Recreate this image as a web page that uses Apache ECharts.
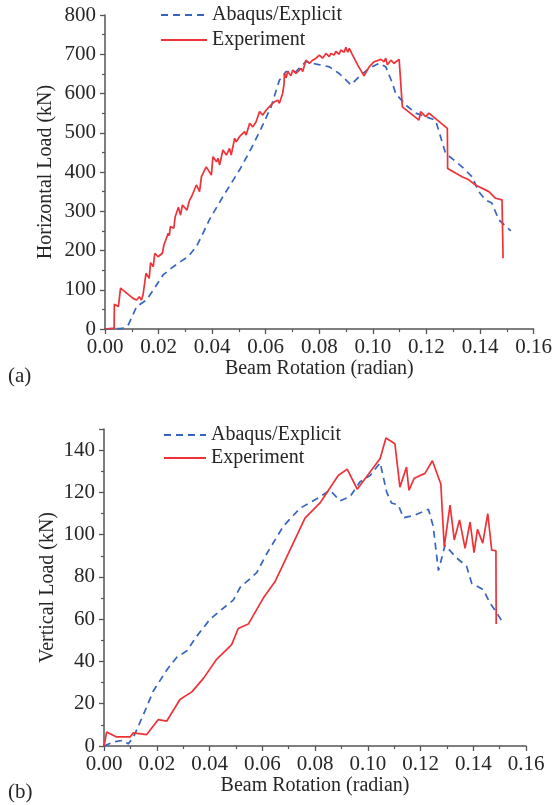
<!DOCTYPE html>
<html>
<head>
<meta charset="utf-8">
<script src="https://cdn.jsdelivr.net/npm/echarts@6/dist/echarts.min.js"></script>
<style>html,body{margin:0;padding:0;background:#fff;}#c{width:555px;height:805px;}</style>
</head>
<body>
<div id="c"></div>
<script>
var seriesNames = ['Abaqus/Explicit', 'Experiment'];
var panelLabels = ['(a)', '(b)'];
var xTitle = 'Beam Rotation (radian)';
var yTitles = ['Horizontal Load (kN)', 'Vertical Load (kN)'];

var abaqusH = [[0,0],[0.0056,1],[0.0075,3],[0.0088,12],[0.0118,57],[0.0155,74],[0.018,99],[0.0217,138],[0.0248,155],[0.0291,176],[0.031,184],[0.0341,210],[0.0366,244],[0.0391,280],[0.044,337],[0.0502,405],[0.0546,460],[0.0583,511],[0.062,566],[0.0651,634],[0.0676,656],[0.0713,656],[0.075,681],[0.0788,675],[0.0837,668],[0.0874,651],[0.0918,622],[0.0949,643],[0.0986,664],[0.1023,677],[0.1048,668],[0.1073,626],[0.1085,600],[0.1122,571],[0.116,550],[0.1197,541],[0.1234,532],[0.1271,448],[0.1333,413],[0.137,388],[0.1395,350],[0.142,329],[0.1444,321],[0.147,278],[0.1515,250]];

var experimentH = [[0,0],[0.0034,2],[0.0035,63],[0.005,57],[0.0058,104],[0.0105,78],[0.0118,74],[0.0128,82],[0.0136,74],[0.0142,87],[0.0149,82],[0.0153,142],[0.0165,129],[0.017,169],[0.018,159],[0.0186,193],[0.0198,184],[0.0214,193],[0.022,214],[0.0236,244],[0.024,238],[0.0244,261],[0.0257,257],[0.0262,286],[0.0274,310],[0.0282,290],[0.0289,316],[0.0306,303],[0.0316,329],[0.0323,337],[0.033,335],[0.0341,367],[0.0353,350],[0.036,388],[0.0378,413],[0.0397,392],[0.0403,439],[0.0416,426],[0.0422,435],[0.0428,418],[0.044,456],[0.0453,443],[0.0465,460],[0.0471,443],[0.0484,486],[0.049,477],[0.0502,490],[0.0508,486],[0.0521,503],[0.0527,494],[0.054,524],[0.0552,515],[0.0564,528],[0.0577,554],[0.0589,545],[0.0602,558],[0.062,571],[0.0633,579],[0.0645,583],[0.0651,575],[0.0663,600],[0.0668,622],[0.067,651],[0.0676,640],[0.0682,656],[0.0694,645],[0.0701,660],[0.0713,651],[0.0732,664],[0.0738,656],[0.075,685],[0.0763,677],[0.0775,685],[0.0788,690],[0.08,698],[0.0812,690],[0.0825,702],[0.0837,694],[0.0843,702],[0.0855,698],[0.0862,707],[0.0874,700],[0.088,711],[0.0893,705],[0.0899,718],[0.0906,705],[0.0912,715],[0.0921,702],[0.0943,673],[0.0967,645],[0.0986,668],[0.1005,681],[0.103,687],[0.1042,681],[0.1048,690],[0.1054,673],[0.1067,685],[0.1079,677],[0.1098,687],[0.111,566],[0.1172,532],[0.1178,554],[0.1197,541],[0.1209,550],[0.1278,511],[0.1279,409],[0.1333,388],[0.1358,380],[0.1383,367],[0.1433,350],[0.1458,333],[0.1464,337],[0.1482,329],[0.1486,180]];

var abaqusV = [[0,0],[0.0036,1.9],[0.0073,2.7],[0.0092,1],[0.0112,4.3],[0.015,15],[0.0187,26],[0.0238,36],[0.0276,42],[0.0314,45],[0.0352,52],[0.0402,60],[0.044,64],[0.049,69],[0.0516,75],[0.0579,82],[0.0617,91],[0.068,104],[0.0743,112.5],[0.0807,117],[0.0857,121],[0.0895,116],[0.0933,118],[0.0971,125],[0.1009,128],[0.1047,134],[0.1072,120],[0.109,115],[0.1116,114],[0.1135,108],[0.1173,109],[0.123,112],[0.1248,104],[0.1268,83],[0.1293,95],[0.1337,89],[0.1375,85],[0.1394,77],[0.1438,74],[0.1464,67.5],[0.1489,63],[0.1514,58]];

var experimentV = [[0,0],[0.001,6.6],[0.0048,4.3],[0.0099,4.3],[0.0111,6.2],[0.0162,5.4],[0.0206,12.5],[0.0238,11.8],[0.0288,22],[0.0333,25.6],[0.0377,32],[0.0427,41],[0.0484,48],[0.0509,55.6],[0.0547,57.7],[0.0604,70],[0.0648,77.7],[0.0705,92.7],[0.0762,107.8],[0.0819,115],[0.0888,128],[0.0922,131],[0.096,121.5],[0.1047,136],[0.1069,145.7],[0.1103,143],[0.1122,122.5],[0.1147,132],[0.1156,121],[0.1176,126.7],[0.1217,129],[0.1245,135],[0.1277,124],[0.129,94.3],[0.1312,114],[0.1328,97.5],[0.1348,107],[0.1369,93.5],[0.1388,106],[0.1403,91.5],[0.1416,102.5],[0.1436,96],[0.1455,110],[0.147,92.7],[0.1486,92.4],[0.1487,57.7]];

var FONT = "'Liberation Serif', 'Times New Roman', serif";
var TXT = '#262626';
var AX = '#555555';
var BLUE = '#3565c0';
var RED = '#ee3237';

function xAxisCfg(gi){
  return {
    type:'value', gridIndex:gi, min:0, max:0.16, interval:0.02,
    name:xTitle, nameLocation:'middle', nameGap:30, nameMoveOverlap:false,
    nameTextStyle:{fontFamily:FONT,fontSize:20,color:TXT},
    axisLine:{show:true,onZero:false,lineStyle:{color:AX,width:1.5}},
    axisTick:{show:true,inside:false,length:5,lineStyle:{color:AX,width:1.3}},
    minorTick:{show:true,splitNumber:2,length:3,lineStyle:{color:AX,width:1.2}},
    axisLabel:{fontFamily:FONT,fontSize:21,color:TXT,margin:8,formatter:function(v){return v.toFixed(2);}},
    splitLine:{show:false}
  };
}
function yAxisCfg(gi,max,interval,name,gap){
  return {
    type:'value', gridIndex:gi, min:0, max:max, interval:interval,
    name:name, nameLocation:'middle', nameGap:gap, nameRotate:90, nameMoveOverlap:false,
    nameTextStyle:{fontFamily:FONT,fontSize:20,color:TXT},
    axisLine:{show:true,onZero:false,lineStyle:{color:AX,width:1.5}},
    axisTick:{show:true,inside:false,length:5,lineStyle:{color:AX,width:1.3}},
    minorTick:{show:true,splitNumber:2,length:3,lineStyle:{color:AX,width:1.2}},
    axisLabel:{fontFamily:FONT,fontSize:21,color:TXT,margin:9,showMaxLabel:(max%interval===0)},
    splitLine:{show:false}
  };
}
function lineSeries(name,data,gi,color,dashed){
  return {
    name:name, type:'line', xAxisIndex:gi, yAxisIndex:gi, data:data,
    symbol:'none', showSymbol:false, smooth:false, animation:false,
    lineStyle:{color:color,width:1.7,type:dashed?[7,5]:'solid'},
    itemStyle:{color:color}
  };
}
function legendCfg(left,top,gap,w){
  return {orient:'vertical', left:left, top:top, padding:0, itemGap:gap, itemWidth:w, itemHeight:14,
    itemStyle:{opacity:0}, textStyle:{fontFamily:FONT,fontSize:20,color:TXT},
    data:seriesNames, selectedMode:false};
}

var chart = echarts.init(document.getElementById('c'), null, {renderer:'canvas'});
chart.setOption({
  backgroundColor:'#fff',
  animation:false,
  grid:[
    {left:105, top:15, width:430, height:314},
    {left:104, top:429, width:422, height:317}
  ],
  xAxis:[xAxisCfg(0), xAxisCfg(1)],
  yAxis:[yAxisCfg(0,800,100,yTitles[0],49), yAxisCfg(1,150,20,yTitles[1],46)],
  legend:[legendCfg(160,5,5,46), legendCfg(163,425,3,42)],
  graphic:[
    {type:'text', left:8, top:366, style:{text:panelLabels[0], font:"21px 'Liberation Serif'", fill:TXT}},
    {type:'text', left:8, top:782, style:{text:panelLabels[1], font:"21px 'Liberation Serif'", fill:TXT}}
  ],
  series:[
    lineSeries(seriesNames[0], abaqusH, 0, BLUE, true),
    lineSeries(seriesNames[1], experimentH, 0, RED, false),
    lineSeries(seriesNames[0], abaqusV, 1, BLUE, true),
    lineSeries(seriesNames[1], experimentV, 1, RED, false)
  ]
});
</script>
</body>
</html>
